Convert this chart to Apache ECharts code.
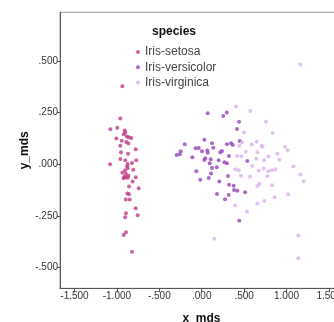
<!DOCTYPE html>
<html>
<head>
<meta charset="utf-8">
<script src="https://cdn.jsdelivr.net/npm/echarts@6/dist/echarts.min.js"></script>
<style>html,body{margin:0;padding:0;background:#fff}#c{width:334px;height:322px}</style>
</head>
<body>
<div id="c"></div>
<script>
const speciesNames = ['Iris-setosa', 'Iris-versicolor', 'Iris-virginica'];
const xTicks = [-1.5, -1.0, -0.5, 0, 0.5, 1.0, 1.5];
const yTicks = [-0.5, -0.25, 0, 0.25, 0.5];

const setosa = [
  [-0.936,0.377],[-0.960,0.221],[-1.078,0.169],[-0.995,0.176],[-0.908,0.163],[-0.901,0.153],
  [-0.920,0.145],[-0.884,0.134],[-0.861,0.131],[-0.830,0.127],[-1.007,0.124],[-0.943,0.114],
  [-0.889,0.108],[-0.960,0.090],[-0.778,0.073],[-0.952,0.058],[-0.869,0.051],[-0.960,0.026],
  [-0.901,0.019],[-0.771,0.019],[-1.081,0.000],[-0.873,0.001],[-0.822,0.006],[-0.873,-0.019],
  [-0.807,-0.026],[-0.936,-0.041],[-0.893,-0.047],[-0.913,-0.060],[-0.896,-0.063],[-0.873,-0.065],
  [-0.920,-0.068],[-0.778,-0.063],[-0.814,-0.084],[-0.857,-0.108],[-0.743,-0.116],[-0.877,-0.142],
  [-0.857,-0.145],[-0.896,-0.171],[-0.849,-0.171],[-0.778,-0.213],[-0.893,-0.237],[-0.755,-0.247],
  [-0.904,-0.256],[-0.893,-0.329],[-0.920,-0.342],[-0.822,-0.423],[-0.865,0.100],[-0.880,-0.010],
  [-0.905,-0.030],[-0.862,-0.055]
];
const versicolor = [
  [0.071,0.247],[0.255,0.234],[0.295,0.250],[0.440,0.206],[0.416,0.171],[0.448,0.113],
  [-0.200,0.097],[-0.071,0.077],[-0.035,0.079],[0.031,0.118],[0.121,0.102],[0.137,0.080],
  [0.298,0.097],[0.346,0.102],[0.366,0.093],[-0.248,0.063],[-0.259,0.048],[-0.295,0.045],
  [0.004,0.063],[0.066,0.066],[0.071,0.056],[0.239,0.064],[0.219,0.058],[-0.111,0.034],
  [0.322,0.040],[0.042,0.029],[0.031,0.021],[0.106,0.024],[0.200,0.019],[0.267,0.010],
  [0.298,0.005],[0.094,0.005],[0.177,-0.015],[0.121,-0.018],[-0.064,-0.034],[0.110,-0.045],
  [0.083,-0.066],[-0.017,-0.075],[0.310,-0.057],[0.208,-0.084],[0.322,-0.099],[0.377,-0.104],
  [0.381,-0.124],[0.420,-0.128],[0.511,-0.135],[0.180,-0.144],[0.318,-0.149],[0.275,-0.169],
  [0.443,-0.273],[0.538,0.016]
];
const virginica = [
  [1.163,0.482],[0.404,0.279],[0.573,0.258],[0.758,0.205],[0.499,0.153],[0.837,0.151],
  [0.475,0.106],[0.444,0.089],[0.648,0.109],[0.707,0.089],[0.719,0.085],[0.589,0.095],
  [0.982,0.085],[1.014,0.068],[0.656,0.058],[0.892,0.051],[0.786,0.037],[0.416,0.040],
  [0.467,0.039],[0.915,0.022],[0.644,0.027],[0.735,0.019],[0.597,-0.008],[1.081,-0.011],
  [0.672,-0.032],[0.731,-0.021],[0.786,-0.034],[0.829,-0.029],[0.868,-0.024],[0.397,-0.024],
  [0.436,-0.029],[0.463,-0.055],[0.570,-0.061],[0.774,-0.058],[1.163,-0.050],[1.202,-0.082],
  [0.680,-0.094],[0.656,-0.105],[0.829,-0.102],[1.018,-0.145],[0.860,-0.160],[0.739,-0.178],
  [0.656,-0.190],[0.393,-0.199],[0.534,-0.228],[0.149,-0.360],[1.140,-0.345],[1.140,-0.455],
  [0.520,0.060]
];

const colors = ['#c03c88', '#9546b8', '#dbb3ee'];
const font = '"Liberation Sans", Arial, sans-serif';
function fmt(v) {
  let s = Math.abs(v).toFixed(3);
  if (s.charAt(0) === '0') s = s.slice(1);
  return (v < 0 ? '-' : '') + s;
}

const chart = echarts.init(document.getElementById('c'), null, {renderer: 'canvas'});
chart.setOption({
  backgroundColor: '#ffffff',
  animation: false,
  textStyle: {fontFamily: font},
  title: {
    text: 'species', left: 174, top: 25.5, textAlign: 'center', padding: 0,
    textStyle: {fontFamily: font, fontSize: 12, fontWeight: 'bold', color: '#111'}
  },
  legend: {
    orient: 'vertical', left: 136, top: 45, itemWidth: 4, itemHeight: 4, itemGap: 1.3,
    padding: 0, icon: 'circle',
    textStyle: {fontFamily: font, fontSize: 12, color: '#444', lineHeight: 14},
    data: speciesNames
  },
  grid: {left: 60, top: 12.3, width: 283, height: 276, show: true, borderColor: '#999', borderWidth: 1,
         outerBoundsMode: 'none', containLabel: false},
  xAxis: {
    type: 'value', min: -1.671, max: 1.666,
    name: 'x_mds', nameLocation: 'middle', nameGap: 24,
    nameTextStyle: {fontFamily: font, fontSize: 12, fontWeight: 'bold', color: '#111'},
    axisLine: {show: true, onZero: false, lineStyle: {color: '#555', width: 1}},
    axisTick: {show: true, length: 4, lineStyle: {color: '#555'}, customValues: xTicks},
    axisLabel: {customValues: xTicks, formatter: fmt, fontFamily: font, fontSize: 10, color: '#333', margin: 3},
    splitLine: {show: false}
  },
  yAxis: {
    type: 'value', min: -0.6, max: 0.735,
    name: 'y_mds', nameLocation: 'middle', nameGap: 29, nameRotate: 90, nameMoveOverlap: false,
    nameTextStyle: {fontFamily: font, fontSize: 12, fontWeight: 'bold', color: '#111'},
    axisLine: {show: true, onZero: false, lineStyle: {color: '#555', width: 1}},
    axisTick: {show: true, length: 3, lineStyle: {color: '#555'}, customValues: yTicks},
    axisLabel: {customValues: yTicks, formatter: fmt, fontFamily: font, fontSize: 10, color: '#333', margin: 2},
    splitLine: {show: false}
  },
  series: [
    {name: speciesNames[0], type: 'scatter', data: setosa, symbolSize: 4, itemStyle: {color: colors[0]}},
    {name: speciesNames[1], type: 'scatter', data: versicolor, symbolSize: 4, itemStyle: {color: colors[1]}},
    {name: speciesNames[2], type: 'scatter', data: virginica, symbolSize: 4, itemStyle: {color: colors[2]}}
  ]
});
</script>
</body>
</html>
